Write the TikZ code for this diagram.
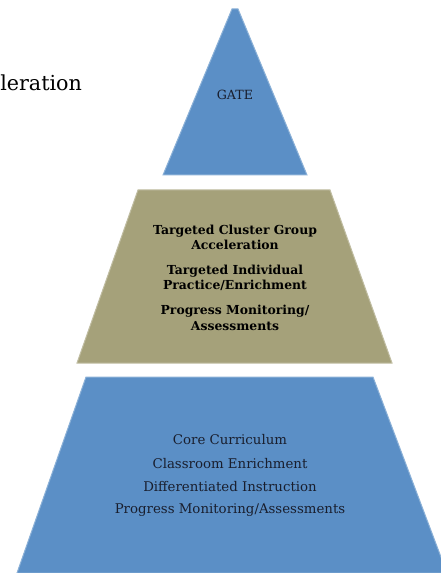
\documentclass[tikz,border=0pt]{standalone}
\usepackage{fontspec}
\setmainfont{DejaVu Serif}
\definecolor{tierblue}{RGB}{91,143,198}
\definecolor{tierolive}{RGB}{165,161,122}
\definecolor{inkdark}{RGB}{25,30,45}
\begin{document}
\begin{tikzpicture}[x=0.75pt,y=0.75pt,yscale=-1,xscale=1]
\useasboundingbox (0,0) rectangle (441,573);

%Shape: Triangle [top tier]
\draw [color=tierblue!70!white ,line width=0.75 ][fill=tierblue ,fill opacity=1 ]  (232,9) -- (238,9) -- (307,175) -- (163,175) -- cycle ;
%Shape: Trapezoid [middle tier]
\draw [color=tierolive!70!white ,line width=0.75 ][fill=tierolive ,fill opacity=1 ]  (138,190) -- (330,190) -- (392,363) -- (77,363) -- cycle ;
%Shape: Trapezoid [bottom tier]
\draw [color=tierblue!70!white ,line width=0.75 ][fill=tierblue ,fill opacity=1 ]  (86,377) -- (373,377) -- (447,573) -- (17,573) -- cycle ;

%Text Node [cut title]
\node [anchor=base west ,inner sep=0 ,text=black ,font=\fontsize{15.5}{18}\selectfont ] (title) at (0,91) {leration};
%Text Node [top tier]
\node [text=inkdark ,font=\fontsize{9.5}{11}\selectfont ] (gate) at (235,95) {GATE};
%Text Node [middle tier]
\node [align=center ,inner sep=0 ,text=black ,font=\bfseries\fontsize{9.3}{11.6}\selectfont ] (cluster) at (235,237.5) {Targeted Cluster Group\\Acceleration};
%Text Node
\node [align=center ,inner sep=0 ,text=black ,font=\bfseries\fontsize{9.3}{11.6}\selectfont ] (individual) at (235,278) {Targeted Individual\\Practice/Enrichment};
%Text Node
\node [align=center ,inner sep=0 ,text=black ,font=\bfseries\fontsize{9.3}{11.6}\selectfont ] (monitor) at (235,318) {Progress Monitoring/\\Assessments};
%Text Node [bottom tier]
\node [text=inkdark ,font=\fontsize{10}{12}\selectfont ] (core) at (230,440) {Core Curriculum};
%Text Node
\node [text=inkdark ,font=\fontsize{10}{12}\selectfont ] (classroom) at (230,463.5) {Classroom Enrichment};
%Text Node
\node [text=inkdark ,font=\fontsize{10}{12}\selectfont ] (instruction) at (230,487) {Differentiated Instruction};
%Text Node
\node [text=inkdark ,font=\fontsize{10}{12}\selectfont ] (assess) at (230,510.5) {Progress Monitoring/Assessments};

\end{tikzpicture}
\end{document}
